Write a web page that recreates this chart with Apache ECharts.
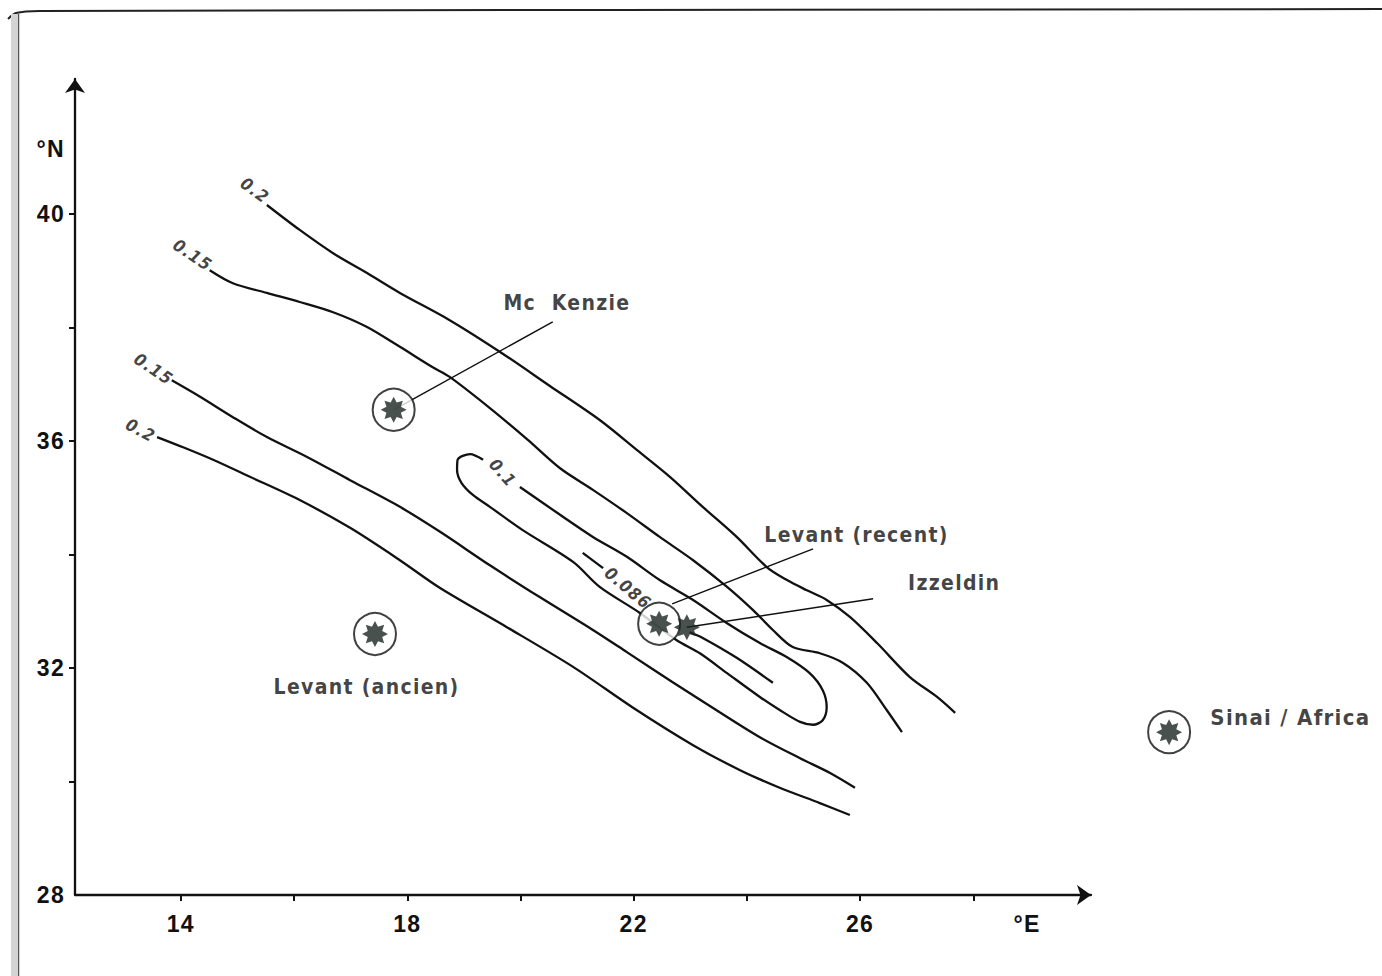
<!DOCTYPE html>
<html>
<head>
<meta charset="utf-8">
<script src="https://cdn.jsdelivr.net/npm/echarts@6/dist/echarts.min.js"></script>
<style>
html,body{margin:0;padding:0;background:#fff;}
#main{width:1382px;height:976px;}
#main text{letter-spacing:1.3px;}
</style>
</head>
<body>
<div id="main"></div>
<script>
// ---------- axes (degrees) ----------
const xRange = [12.13, 30.08];
const yRange = [28, 42.38];
const xTickValues = [14, 16, 18, 20, 22, 24, 26, 28];
const xLabelValues = [14, 18, 22, 26];
const xUnitLabel = { value: 28.95, text: '°E' };
const yTickValues = [30, 32, 34, 36, 38, 40];
const yLabelValues = [28, 32, 36, 40];
const yUnitLabel = { value: 41.14, text: '°N' };

// ---------- contour lines [°E, °N] ----------
const contour02Upper = [
  [15.52,40.16],[16.10,39.72],[16.69,39.31],[17.29,38.96],[17.87,38.61],[18.75,38.13],
  [19.64,37.57],[20.52,36.97],[21.40,36.37],[22.06,35.84],[22.64,35.37],[23.22,34.84],
  [23.82,34.31],[24.35,33.78],[24.71,33.55],[25.06,33.37],[25.41,33.20],[25.82,32.90],
  [26.30,32.44],[26.88,31.84],[27.36,31.49],[27.68,31.21]
];
const contour015Upper = [
  [14.51,39.01],[14.92,38.78],[15.52,38.61],[16.10,38.45],[16.69,38.27],[17.29,38.01],
  [17.87,37.66],[18.45,37.30],[18.75,37.13],[19.46,36.58],[20.13,36.02],[20.70,35.52],
  [21.28,35.14],[21.88,34.73],[22.46,34.31],[23.05,33.90],[23.65,33.43],[24.11,33.02],
  [24.46,32.67],[24.81,32.37],[25.29,32.26],[25.70,32.09],[26.12,31.74],[26.47,31.26],
  [26.74,30.87]
];
const contour010Loop = [
  [19.99,35.19],[20.70,34.70],[21.28,34.31],[21.88,33.96],[22.46,33.55],[23.05,33.20],
  [23.65,32.79],[24.23,32.44],[24.71,32.19],[25.11,31.91],[25.34,31.61],[25.41,31.31],
  [25.34,31.08],[25.17,31.00],[24.94,31.05],[24.58,31.26],[24.23,31.49],[23.65,31.91],
  [23.17,32.26],[22.76,32.49],[22.11,32.97],[21.40,33.43],[20.93,33.87],[20.04,34.43],
  [19.46,34.84],[19.16,35.05],[18.96,35.26],[18.88,35.49],[18.89,35.67],[19.11,35.77],
  [19.34,35.67]
];
const contour0086a = [[21.10,34.03],[21.46,33.76]];
const contour0086b = [[22.99,32.63],[23.22,32.53],[23.82,32.18],[24.46,31.74]];
const contour015Lower = [
  [13.84,37.07],[14.34,36.78],[14.92,36.42],[15.52,36.07],[16.23,35.72],[16.99,35.31],
  [17.87,34.84],[18.58,34.40],[19.46,33.81],[20.34,33.25],[21.28,32.67],[21.88,32.28],
  [22.69,31.75],[23.52,31.22],[24.23,30.78],[24.94,30.41],[25.47,30.15],[25.91,29.89]
];
const contour02Lower = [
  [13.58,36.07],[14.04,35.89],[14.57,35.67],[15.22,35.37],[16.10,34.96],[16.99,34.47],
  [17.87,33.90],[18.58,33.41],[19.76,32.72],[20.93,32.02],[21.99,31.30],[23.05,30.64],
  [23.88,30.20],[24.58,29.89],[25.29,29.62],[25.82,29.41]
];

// contour value labels
const contourLabelText = ['0.2', '0.15', '0.15', '0.2', '0.1', '0.086'];
const contourLabelLon  = [15.31, 14.21, 13.52, 13.29, 19.69, 21.90];
const contourLabelLat  = [40.42, 39.28, 37.27, 36.19, 35.44, 33.41];

// ---------- sites ----------
const siteNames   = ['Mc  Kenzie', 'Levant (ancien)', 'Levant (recent)', 'Izzeldin', 'Sinai / Africa'];
const siteLon     = [17.76, 17.43, 22.45, 22.94, 31.46];
const siteLat     = [36.55, 32.60, 32.78, 32.72, 30.87];
const siteCircled = [true, true, true, false, true];
const siteLabelLon = [19.69, 15.63, 24.30, 26.84, 32.18];
const siteLabelLat = [38.43, 31.67, 34.34, 33.50, 31.12];
const leaderMcKenzie     = [[17.76,36.55],[20.57,38.10]];
const leaderLevantRecent = [[22.68,33.13],[25.17,34.10]];
const leaderIzzeldin     = [[22.94,32.72],[26.23,33.22]];

// ---------- styles ----------
const INK = '#111111';
const STAR = '#1a2622';
const FONT = "'Liberation Sans Narrow','DejaVu Sans Condensed','Arial Narrow','Liberation Sans',sans-serif";
const TICKFONT = "'Liberation Sans','Arial',sans-serif";
const starPath = 'path://M50,0L61.5,22.3L85.36,14.64L77.7,38.5L100,50L77.7,61.5L85.36,85.36L61.5,77.7L50,100L38.5,77.7L14.64,85.36L22.3,61.5L0,50L22.3,38.5L14.64,14.64L38.5,22.3Z';
const contourLabelAngles = [-36, -34, -34, -28, -48, -40];

const chart = echarts.init(document.getElementById('main'), null, { renderer: 'svg' });

function contourSeries(data) {
  return {
    type: 'line', data: data, symbol: 'none', smooth: 0.3, silent: true, z: 2,
    lineStyle: { color: INK, width: 2.3 }
  };
}
function leaderSeries(data) {
  return {
    type: 'line', data: data, symbol: 'none', silent: true, z: 2, clip: false,
    lineStyle: { color: INK, width: 1.5 }
  };
}

const circleData = [];
const starData = [];
const siteLabelData = [];
for (let i = 0; i < siteNames.length; i++) {
  if (siteCircled[i]) circleData.push([siteLon[i], siteLat[i]]);
  starData.push([siteLon[i], siteLat[i]]);
  const item = { name: siteNames[i], value: [siteLabelLon[i], siteLabelLat[i]] };
  if (i === siteNames.length - 1) item.label = { fontSize: 22 };
  siteLabelData.push(item);
}
const contourLabelData = contourLabelText.map((t, i) => ({
  name: t, value: [contourLabelLon[i], contourLabelLat[i]],
  label: { rotate: contourLabelAngles[i] }
}));

const option = {
  animation: false,
  backgroundColor: '#fff',
  grid: { left: 75, right: 291, top: 79, bottom: 81 },
  xAxis: {
    type: 'value', min: xRange[0], max: xRange[1],
    splitLine: { show: false },
    axisLine: { show: true, lineStyle: { color: INK, width: 2.3 }, symbol: ['none', 'arrow'], symbolSize: [15, 14] },
    axisTick: { show: true, customValues: xTickValues, length: 6, inside: false, lineStyle: { color: INK, width: 2 } },
    axisLabel: {
      customValues: xLabelValues.concat([xUnitLabel.value]),
      formatter: v => (Math.abs(v - xUnitLabel.value) < 1e-6 ? xUnitLabel.text : String(v)),
      margin: 17, color: INK, fontSize: 23, fontWeight: 'bold', fontFamily: TICKFONT
    }
  },
  yAxis: {
    type: 'value', min: yRange[0], max: yRange[1],
    splitLine: { show: false },
    axisLine: { show: true, lineStyle: { color: INK, width: 2.3 }, symbol: ['none', 'arrow'], symbolSize: [15, 14] },
    axisTick: { show: true, customValues: yTickValues, length: 6, inside: false, lineStyle: { color: INK, width: 2 } },
    axisLabel: {
      customValues: yLabelValues.concat([yUnitLabel.value]),
      formatter: v => (Math.abs(v - yUnitLabel.value) < 1e-6 ? yUnitLabel.text : String(v)),
      margin: 10, color: INK, fontSize: 23, fontWeight: 'bold', fontFamily: TICKFONT,
      padding: [0, 0, 14, 0]
    }
  },
  graphic: [
    { type: 'polyline', silent: true, shape: { points: [[8, 19], [16, 13], [40, 11], [1382, 9]], smooth: 0.3 },
      style: { stroke: '#222', lineWidth: 2, fill: null } },
    { type: 'rect', silent: true, shape: { x: 11, y: 14, width: 6, height: 962 }, style: { fill: '#d4d4d4' } },
    { type: 'line', silent: true, shape: { x1: 18.5, y1: 14, x2: 18.5, y2: 976 }, style: { stroke: '#555', lineWidth: 1.5 } }
  ],
  series: [
    contourSeries(contour02Upper),
    contourSeries(contour015Upper),
    contourSeries(contour010Loop),
    contourSeries(contour0086a),
    contourSeries(contour0086b),
    contourSeries(contour015Lower),
    contourSeries(contour02Lower),
    leaderSeries(leaderMcKenzie),
    leaderSeries(leaderLevantRecent),
    leaderSeries(leaderIzzeldin),
    {
      type: 'scatter', data: circleData, symbol: 'circle', symbolSize: 42, clip: false, silent: true, z: 3,
      itemStyle: { color: '#fff', borderColor: INK, borderWidth: 2 }
    },
    {
      type: 'scatter', data: starData, symbol: starPath, symbolSize: 26, clip: false, silent: true, z: 4,
      itemStyle: { color: STAR }
    },
    {
      type: 'scatter', data: siteLabelData, symbolSize: 1, clip: false, silent: true, z: 5,
      itemStyle: { color: 'transparent' },
      label: { show: true, position: 'right', distance: 0, formatter: '{b}', color: INK,
               fontSize: 21, fontWeight: 'bold', fontFamily: FONT }
    },
    {
      type: 'scatter', data: contourLabelData, symbolSize: 1, clip: false, silent: true, z: 5,
      itemStyle: { color: 'transparent' },
      label: { show: true, position: 'inside', formatter: '{b}', color: INK,
               fontSize: 17, fontStyle: 'italic', fontWeight: 'bold', fontFamily: FONT }
    }
  ]
};
chart.setOption(option);
</script>
</body>
</html>
